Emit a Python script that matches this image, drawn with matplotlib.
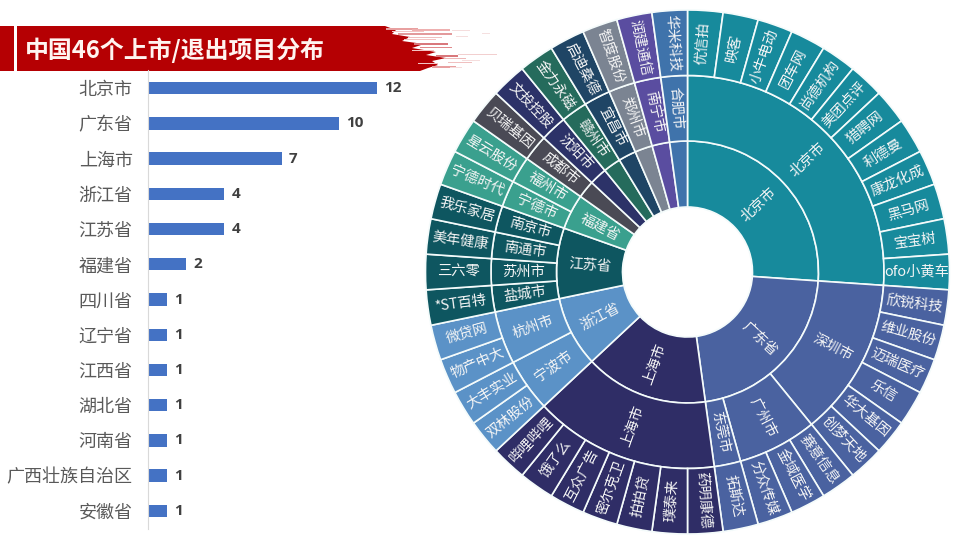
import numpy as np
import matplotlib
matplotlib.use("Agg")
import matplotlib.pyplot as plt
from matplotlib.patches import Rectangle, Polygon

plt.rcParams['font.family'] = ['Noto Sans CJK SC', 'DejaVu Sans']

provinces = ["北京市", "广东省", "上海市", "浙江省", "江苏省", "福建省", "四川省",
             "辽宁省", "江西省", "湖北省", "河南省", "广西壮族自治区", "安徽省"]
province_counts = [12, 10, 7, 4, 4, 2, 1, 1, 1, 1, 1, 1, 1]
# the inner ring only names the big slices
ring_provinces = ["北京市", "广东省", "上海市", "浙江省", "江苏省", "福建省", "", "", "", "", "", "", ""]
province_colors = ["#178a9c", "#4a62a0", "#2f2d66", "#5b92c7", "#0e5660", "#3aa08e", "#4a4a55",
                   "#2c3268", "#256b5c", "#1f4565", "#7b8492", "#5a4da0", "#3f73ab"]

cities = ["北京市", "深圳市", "广州市", "东莞市", "上海市", "宁波市", "杭州市", "盐城市", "苏州市",
          "南通市", "南京市", "宁德市", "福州市", "成都市", "沈阳市", "赣州市", "宜昌市", "郑州市",
          "南宁市", "合肥市"]
city_counts = [12, 6, 3, 1, 7, 2, 2, 1, 1, 1, 1, 1, 1, 1, 1, 1, 1, 1, 1, 1]
cities_per_province = [1, 3, 1, 2, 4, 2, 1, 1, 1, 1, 1, 1, 1]

companies = ["优信拍", "映客", "小牛电动", "团车网", "尚德机构", "美团点评", "猎聘网", "利德曼",
             "康龙化成", "黑马网", "宝宝树", "ofo小黄车",
             "欣锐科技", "维业股份", "迈瑞医疗", "乐信", "华大基因", "创梦天地",
             "赛意信息", "金域医学", "分众传媒", "拓斯达",
             "药明康德", "璞泰来", "拍拍贷", "密尔克卫", "互众广告", "饿了么", "哔哩哔哩",
             "双林股份", "大丰实业", "物产中大", "微贷网",
             "*ST百特", "三六零", "美年健康", "我乐家居",
             "宁德时代", "星云股份", "贝瑞基因", "文投控股", "金力永磁", "启迪桑德",
             "智度股份", "润建通信", "华米科技"]

# jagged right edge of the title band, x then y in image pixels
band_edge_x = [385, 396, 392, 410, 402, 424, 412, 436, 426, 446, 432, 438, 428, 420]
band_edge_y = [26, 30, 34, 37, 41, 44, 48, 52, 55, 58, 61, 65, 68, 71]
# pale streaks and specks beyond it: x0, x1, y, thickness, colour
brush_streaks = [(386, 418, 28, 2, "#e8a0a0"), (412, 450, 29, 1.5, "#eeb0b0"), (398, 452, 33, 2, "#e39a9c"),
                 (408, 442, 37, 1, "#f0c0c0"), (414, 448, 43, 1.5, "#d9787c"), (420, 452, 47, 1.2, "#e08a8c"),
                 (436, 458, 55, 1.5, "#d9787c"), (444, 466, 58, 1, "#eeb8b8"), (448, 472, 62, 1, "#f0c0c0"),
                 (432, 456, 66, 1.5, "#e8a0a0"), (458, 497, 54, 1, "#f2cfcf"), (462, 480, 60, 0.8, "#f5dddd"),
                 (452, 470, 30, 1, "#f5dddd"), (456, 468, 36, 0.8, "#f5dddd"), (482, 490, 33, 0.8, "#f5e0e0"),
                 (450, 462, 67, 1, "#f5dddd")]
brush_gaps = [(392, 424, 31, 1), (404, 436, 39, 1), (412, 434, 50, 1), (418, 438, 63, 1)]

fig = plt.figure(figsize=(9.6, 5.36), dpi=100, facecolor="white")

# background layer in image pixels
bg = fig.add_axes([0, 0, 1, 1])
bg.set_xlim(0, 960)
bg.set_ylim(536, 0)
bg.axis("off")
bg.add_patch(Rectangle((0, 26), 14, 45, color="#b50003", lw=0))
band = [(17, 26)] + list(zip(band_edge_x, band_edge_y)) + [(17, 71)]
bg.add_patch(Polygon(band, closed=True, color="#b50003", lw=0))
for x0, x1, yy, h, c in brush_streaks:
    bg.add_patch(Rectangle((x0, yy), x1 - x0, h, color=c, lw=0))
for x0, x1, yy, h in brush_gaps:
    bg.add_patch(Rectangle((x0, yy), x1 - x0, h, color="#f3c4c4", lw=0))
bg.text(25, 50, "中国46个上市/退出项目分布", color="#fff4f0", fontsize=17.2, fontweight="bold",
        va="center", ha="left")

# bar chart on the left
ax = fig.add_axes([148 / 960, 1 - 528.5 / 536, 380 / 960, 458 / 536])
ax.patch.set_alpha(0)
y = np.arange(len(provinces))
bars = ax.barh(y, province_counts, height=0.35, color="#4472c4")
ax.set_ylim(len(provinces) - 0.5, -0.5)
ax.set_xlim(0, 19.9)
ax.set_yticks(y, provinces, fontsize=13, color="#595959")
ax.set_xticks([])
ax.tick_params(axis="y", length=0, pad=11)
for s in ["top", "right", "bottom"]:
    ax.spines[s].set_visible(False)
ax.spines["left"].set_color("#d9d9d9")
ax.bar_label(bars, padding=5, fontsize=11, fontweight="bold", color="#404040",
             family=["Open Sans", "DejaVu Sans"])

# sunburst, axes units are pixels around the centre
cx, cy, lim = 687.5, 272, 264
pie = fig.add_axes([(cx - lim) / 960, 1 - (cy + lim) / 536, 2 * lim / 960, 2 * lim / 536])
pie.patch.set_alpha(0)

r0, r1, r2, r3 = 65, 131, 196.5, 262
city_colors = list(np.repeat(province_colors, cities_per_province))
company_colors = list(np.repeat(province_colors, province_counts))
edge = {"edgecolor": "#f4fbfb", "linewidth": 1.2}


def ring(values, colors, labels, r_out, r_in, r_text, size):
    pie.pie(values, colors=colors, radius=r_out, startangle=90, counterclock=False,
            wedgeprops=dict(width=r_out - r_in, **edge))
    ends = np.cumsum(values) / np.sum(values) * 360
    mids = ends - np.array(values) / np.sum(values) * 180
    for label, theta in zip(labels, mids):
        t = np.radians(theta)
        rot = 90 - theta if theta < 180 else 270 - theta
        pie.text(r_text * np.sin(t), r_text * np.cos(t), label, color="#f5f5f5", fontsize=size,
                 fontweight="medium", rotation=rot, rotation_mode="anchor", ha="center", va="center")


ring(province_counts, province_colors, ring_provinces, r1, r0, 98, 10.3)
ring(city_counts, city_colors, cities, r2, r1, 164, 10.3)
ring([1] * len(companies), company_colors, companies, r3, r2, 229, 10.3)
pie.set_xlim(-lim, lim)
pie.set_ylim(-lim, lim)

fig.savefig("out.png", dpi=100)
